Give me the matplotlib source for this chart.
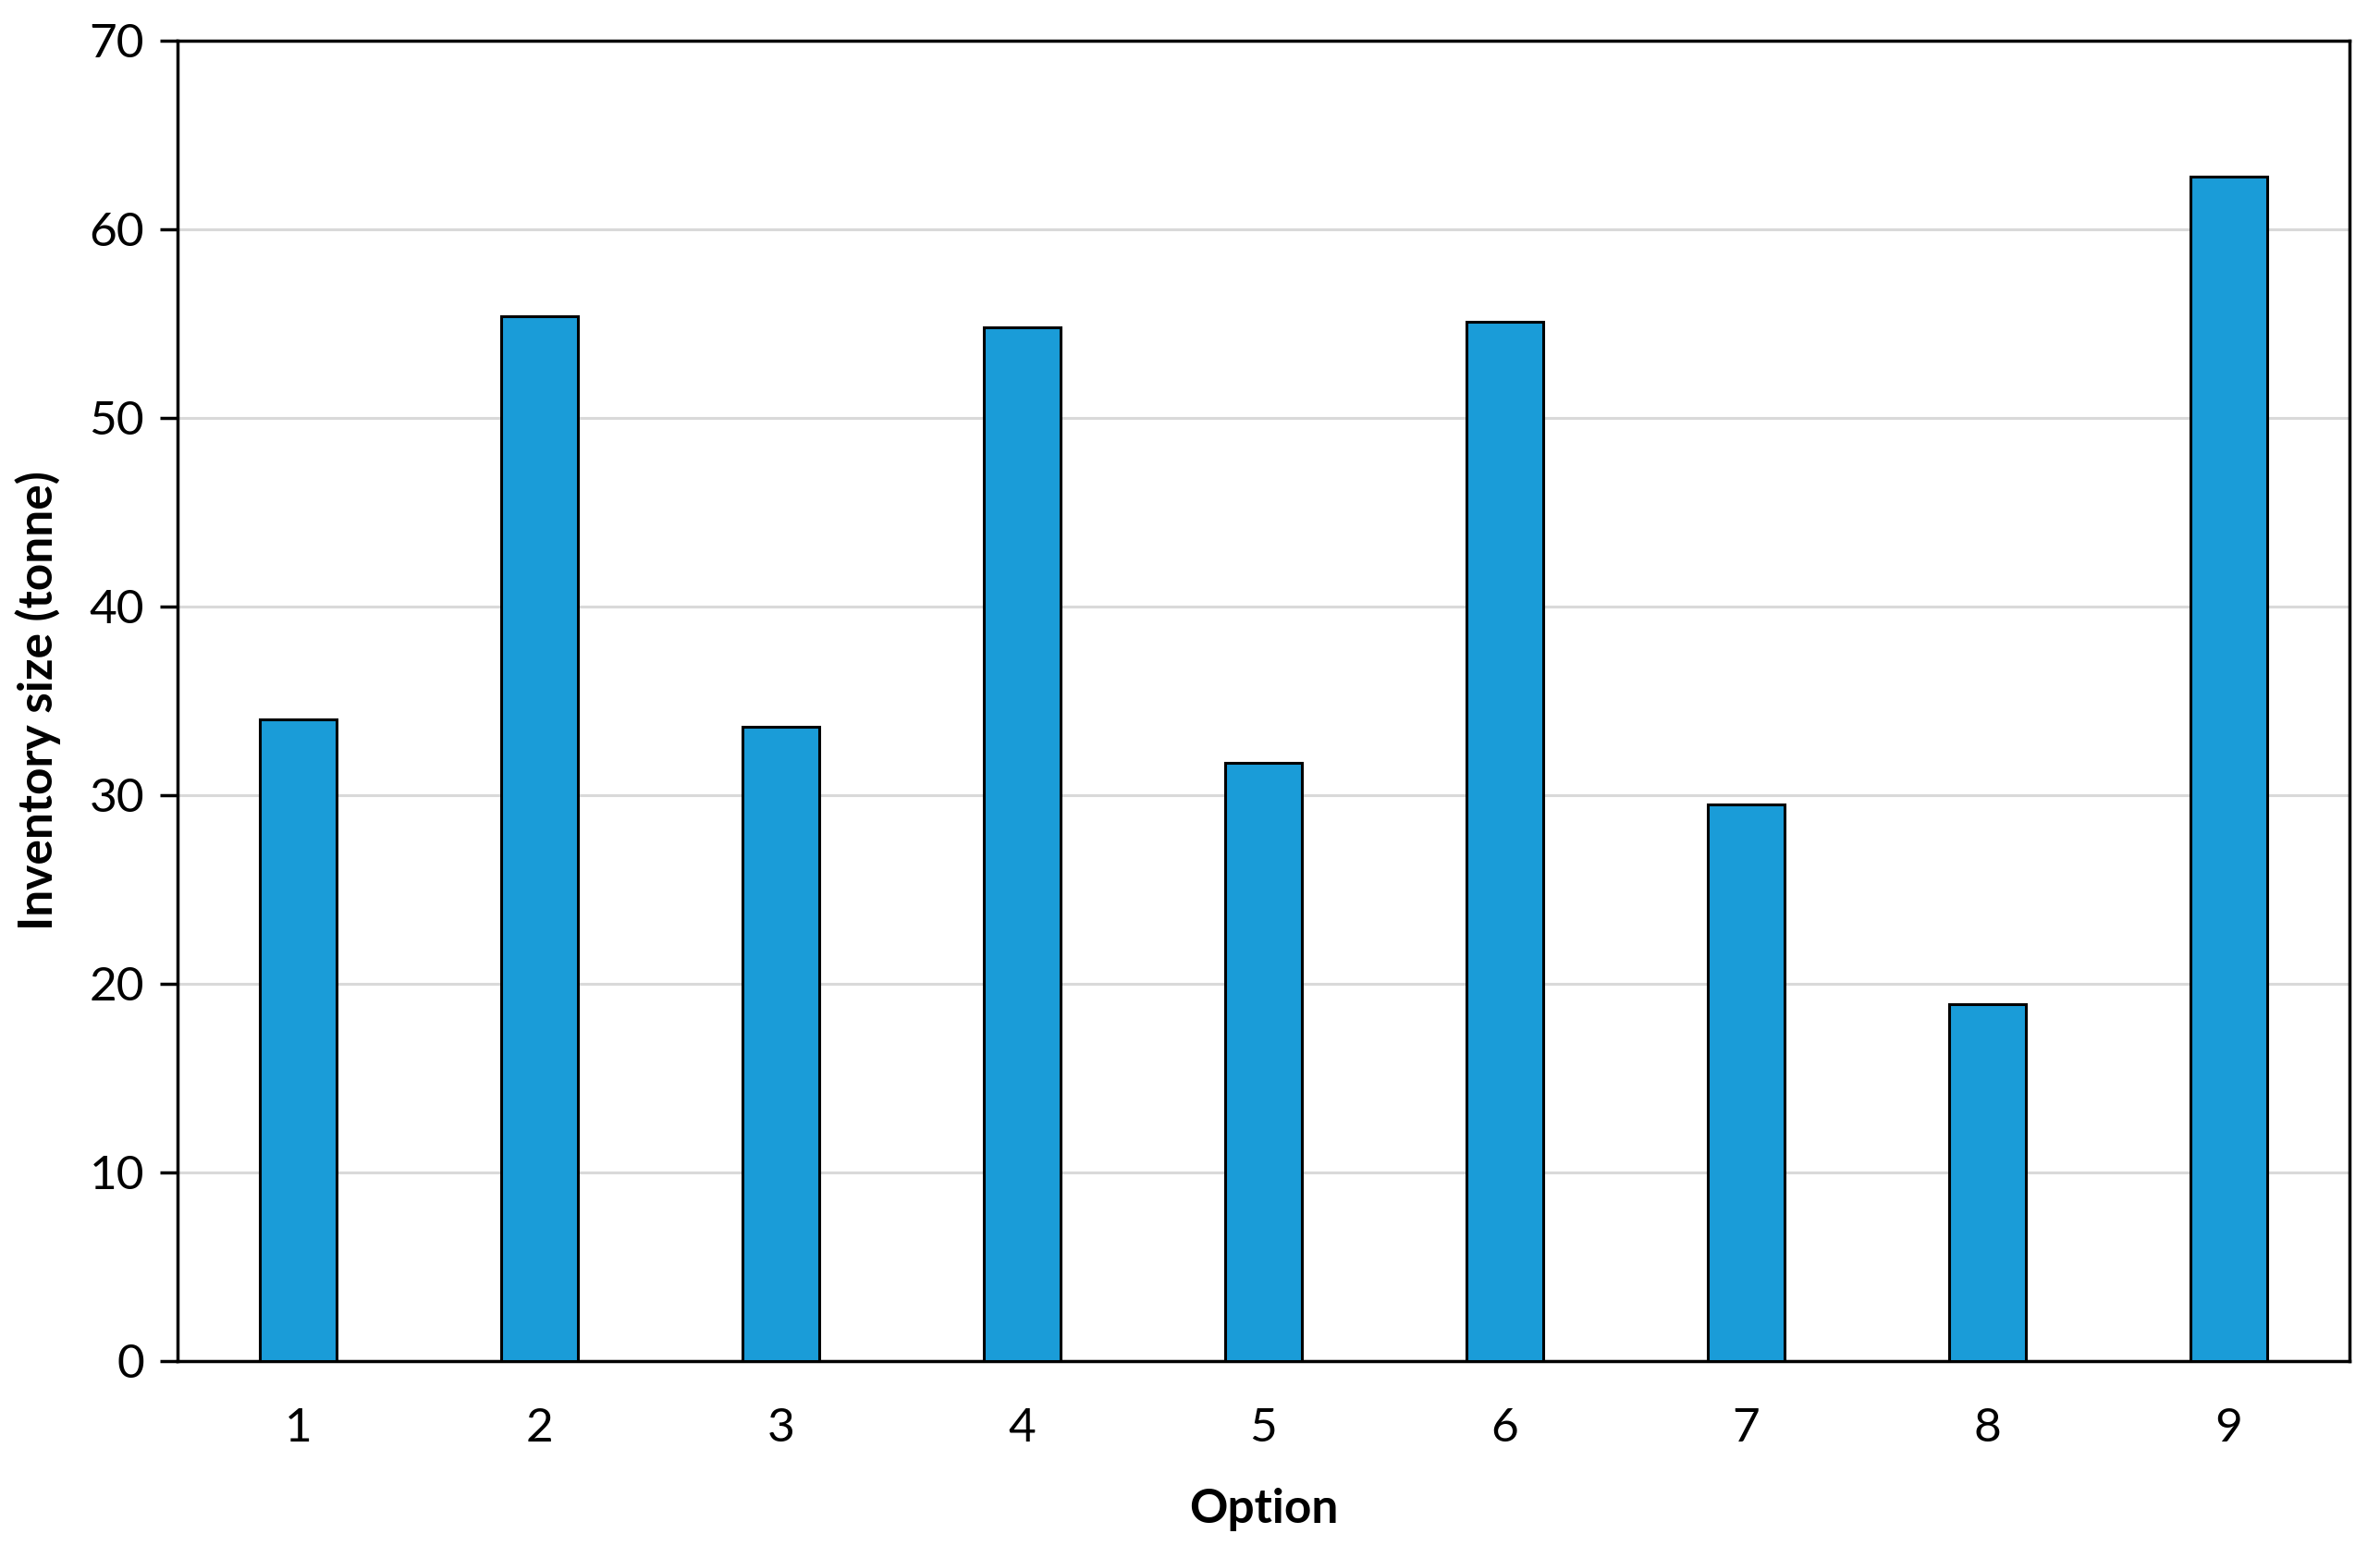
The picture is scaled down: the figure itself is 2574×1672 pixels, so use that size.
import matplotlib
matplotlib.use("Agg")
import matplotlib.pyplot as plt

options = [1, 2, 3, 4, 5, 6, 7, 8, 9]
inventory = [34.0, 55.4, 33.6, 54.8, 31.7, 55.1, 29.5, 18.9, 62.8]
yticks = [0, 10, 20, 30, 40, 50, 60, 70]

plt.rcParams['font.family'] = ['Lato', 'DejaVu Sans']

fig = plt.figure(figsize=(25.74, 16.72), dpi=100)
ax = fig.add_axes([0.0746, 0.1198, 0.9126, 0.8539])

ax.bar(options, inventory, width=0.32, color='#1a9cd8', edgecolor='black',
       linewidth=2.2, zorder=3)

ax.set_xlim(0.5, 9.5)
ax.set_ylim(0, 70)
ax.set_yticks(yticks)
ax.set_xticks(options)
ax.yaxis.grid(True, color='#d9d9d9', linewidth=2.2, zorder=0)
ax.set_axisbelow(True)

for s in ax.spines.values():
    s.set_linewidth(2.5)
    s.set_color('black')

ax.tick_params(axis='y', length=14, width=2.5, labelsize=37, pad=12, colors='black')
ax.tick_params(axis='x', length=0, labelsize=37, pad=36, colors='black')

ax.set_xlabel('Option', fontsize=37, fontweight='bold', labelpad=30)
ax.set_ylabel('Inventory size (tonne)', fontsize=37, fontweight='bold', labelpad=22)

fig.savefig('out.png', dpi=100, facecolor='white')
